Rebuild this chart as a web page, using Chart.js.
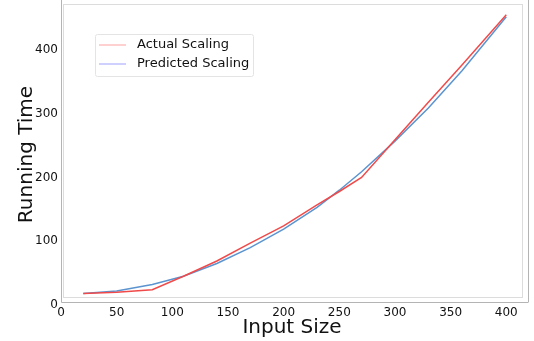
<!DOCTYPE html>
<html>
<head>
<meta charset="utf-8">
<script src="https://cdn.jsdelivr.net/npm/chart.js@4/dist/chart.umd.min.js"></script>
<style>
  html, body { margin: 0; padding: 0; background: #fff; }
  #wrap { width: 534px; height: 341px; }
</style>
</head>
<body>
<div id="wrap"><canvas id="chart" width="534" height="341"></canvas></div>
<script>
const inputSizes = [20, 50, 82, 110, 140, 170, 200, 230, 250, 270, 300, 330, 360, 400];
const actualTimes = [18, 20, 24, 45, 69, 97, 124, 157, 178, 200, 259, 318, 376, 455];
const predictedTimes = [18, 22, 32, 45, 65, 90, 119, 153, 180, 209, 257, 309, 367, 452];
const xTicks = [0, 50, 100, 150, 200, 250, 300, 350, 400];
const yTicks = [0, 100, 200, 300, 400];

const font = 'DejaVu Sans';

// legend + frame drawn by hand, matplotlib style
const decor = {
  id: 'decor',
  beforeDatasetsDraw(chart) {
    const { ctx, chartArea: a } = chart;
    ctx.save();
    ctx.lineWidth = 1;
    ctx.strokeStyle = '#dcdcdc';
    ctx.strokeRect(a.left + 2.5, a.top + 0.5, a.right - a.left - 3, a.bottom - a.top - 8);
    ctx.strokeStyle = '#b4b4b4';
    ctx.beginPath();
    ctx.moveTo(a.left + 0.5, 0);
    ctx.lineTo(a.left + 0.5, a.bottom - 2.5);
    ctx.lineTo(a.right + 5, a.bottom - 2.5);
    ctx.moveTo(a.right + 5.5, 0);
    ctx.lineTo(a.right + 5.5, a.bottom - 2.5);
    ctx.stroke();
    ctx.restore();
  },
  afterDraw(chart) {
    const { ctx, chartArea: a } = chart;
    const x0 = a.left + 34, y0 = a.top + 30;
    ctx.save();
    ctx.fillStyle = 'rgba(255,255,255,0.9)';
    ctx.strokeStyle = '#e4e4e4';
    ctx.lineWidth = 1;
    ctx.beginPath();
    ctx.roundRect(x0 + 0.5, y0 + 0.5, 158, 42, 2);
    ctx.fill();
    ctx.stroke();
    const swatch = ['#ffb0b0', '#b0b0ff'];
    ctx.font = '13px "' + font + '"';
    ctx.textBaseline = 'middle';
    chart.data.datasets.forEach((ds, i) => {
      const y = y0 + 11 + i * 19;
      ctx.strokeStyle = swatch[i];
      ctx.lineWidth = 1.2;
      ctx.beginPath();
      ctx.moveTo(x0 + 4, y);
      ctx.lineTo(x0 + 31, y);
      ctx.stroke();
      ctx.fillStyle = '#111';
      ctx.fillText(ds.label, x0 + 42, y);
    });
    ctx.restore();
  }
};

new Chart(document.getElementById('chart'), {
  type: 'line',
  data: {
    datasets: [
      {
        label: 'Actual Scaling',
        data: inputSizes.map((x, i) => ({ x: x, y: actualTimes[i] })),
        borderColor: '#f04a4a',
        borderWidth: 1.5,
        pointRadius: 0,
        tension: 0
      },
      {
        label: 'Predicted Scaling',
        data: inputSizes.map((x, i) => ({ x: x, y: predictedTimes[i] })),
        borderColor: '#5b94d0',
        borderWidth: 1.5,
        pointRadius: 0,
        tension: 0
      }
    ]
  },
  options: {
    responsive: false,
    animation: false,
    layout: { padding: { top: 4, right: 11, left: 0, bottom: 0 } },
    plugins: { legend: { display: false }, tooltip: { enabled: false } },
    scales: {
      x: {
        type: 'linear',
        min: 0,
        max: 415,
        afterFit: s => { s.height = 36; s.paddingLeft = 0; s.paddingRight = 0; },
        afterBuildTicks: s => { s.ticks = xTicks.map(v => ({ value: v })); },
        grid: { display: false, drawTicks: false },
        border: { display: false },
        ticks: { padding: 1, color: '#111', font: { family: font, size: 12 }, maxRotation: 0 },
        title: {
          display: true,
          text: 'Input Size',
          color: '#111',
          font: { family: font, size: 20 },
          padding: { top: 0, bottom: 1 }
        }
      },
      y: {
        min: 0,
        max: 472,
        afterFit: s => { s.width = 61; s.paddingTop = 0; s.paddingBottom = 0; },
        afterBuildTicks: s => { s.ticks = yTicks.map(v => ({ value: v })); },
        grid: { display: false, drawTicks: false },
        border: { display: false },
        ticks: { padding: 3, color: '#111', font: { family: font, size: 12 } },
        title: {
          display: true,
          text: 'Running Time',
          color: '#111',
          font: { family: font, size: 20 },
          padding: { top: 15, bottom: 0 }
        }
      }
    }
  },
  plugins: [decor]
});
</script>
</body>
</html>
